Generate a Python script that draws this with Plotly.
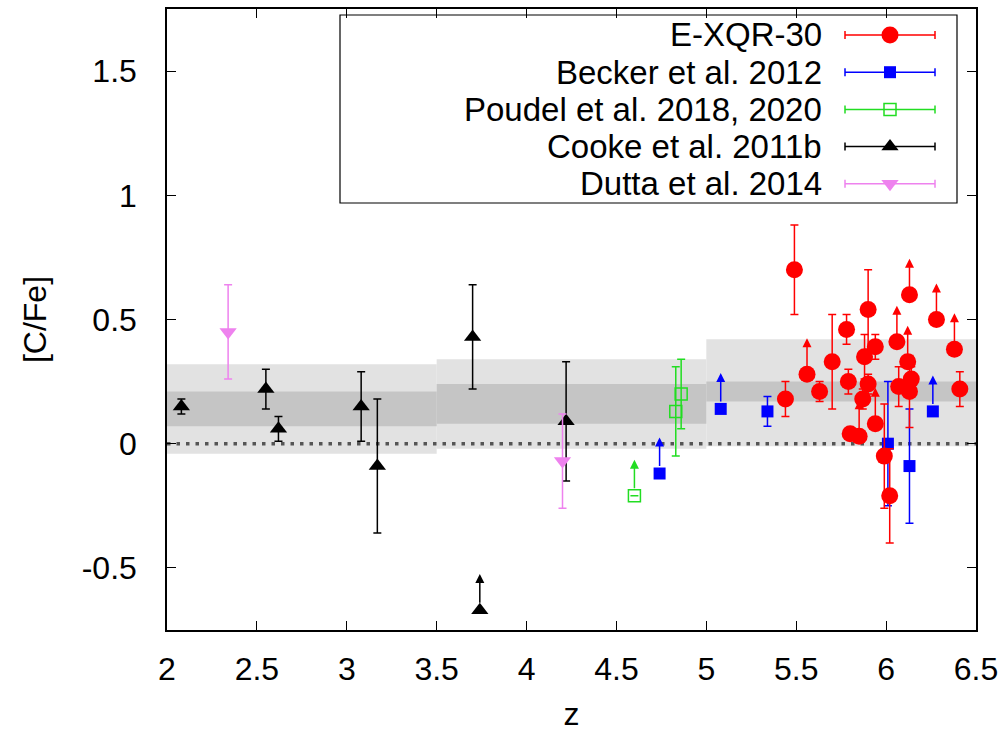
import plotly.graph_objects as go

# ---------------- data ----------------
exqr_z = [5.44, 5.49, 5.56, 5.63, 5.70, 5.78, 5.79, 5.80, 5.85, 5.87, 5.88, 5.90, 5.90,
          5.94, 5.94, 5.99, 6.02, 6.06, 6.07, 6.12, 6.13, 6.13, 6.14, 6.28, 6.38, 6.41]
exqr_cfe = [0.18, 0.70, 0.28, 0.21, 0.33, 0.46, 0.25, 0.04, 0.03, 0.18, 0.35, 0.54, 0.24,
            0.08, 0.39, -0.05, -0.21, 0.41, 0.23, 0.33, 0.60, 0.21, 0.26, 0.50, 0.38, 0.22]
exqr_err = [0.07, 0.18, None, 0.04, 0.19, 0.06, 0.05, 0.02, None, 0.04, 0.09, 0.16, 0.04,
            None, 0.05, 0.21, 0.19, None, 0.08, None, None, 0.145, 0.05, None, None, 0.07]
exqr_lower = [False, False, True, False, False, False, False, False, True, False, False, False, False,
              True, False, False, False, True, False, True, True, False, False, True, True, False]

becker_z = [4.74, 5.08, 5.34, 6.01, 6.13, 6.26]
becker_cfe = [-0.12, 0.14, 0.13, 0.00, -0.09, 0.13]
becker_err = [None, None, 0.06, 0.25, 0.23, None]
becker_lower = [True, True, False, False, False, True]

poudel_z = [4.60, 4.83, 4.86]
poudel_cfe = [-0.21, 0.13, 0.20]
poudel_err = [None, 0.18, 0.14]
poudel_lower = [True, False, False]

cooke_z = [2.08, 2.55, 2.62, 3.08, 3.17, 3.70, 3.74, 4.22]
cooke_cfe = [0.15, 0.22, 0.06, 0.15, -0.09, 0.43, -0.67, 0.09]
cooke_err = [0.03, 0.08, 0.05, 0.14, 0.27, 0.21, None, 0.24]
cooke_lower = [False, False, False, False, False, False, True, False]

dutta_z = [2.34, 4.20]
dutta_cfe = [0.45, -0.07]
dutta_err = [0.19, 0.19]
dutta_lower = [False, False]

band_edges = [2.0, 3.5, 5.0, 6.5]
band_outer_lo = [-0.04, -0.02, -0.01]
band_outer_hi = [0.32, 0.34, 0.42]
band_inner_lo = [0.07, 0.08, 0.17]
band_inner_hi = [0.21, 0.24, 0.25]

x_ticks = [2, 2.5, 3, 3.5, 4, 4.5, 5, 5.5, 6, 6.5]
x_tick_labels = ["2", "2.5", "3", "3.5", "4", "4.5", "5", "5.5", "6", "6.5"]
y_ticks = [-0.5, 0, 0.5, 1, 1.5]
y_tick_labels = ["-0.5", "0", "0.5", "1", "1.5"]

series_names = ["E-XQR-30", "Becker et al. 2012", "Poudel et al. 2018, 2020",
                "Cooke et al. 2011b", "Dutta et al. 2014"]

# ---------------- style / layout ----------------
W, H = 1007, 735
ML, MR, MT, MB = 167, 31, 9, 105
PW, PH = W - ML - MR, H - MT - MB
FONT = "Liberation Sans, Arimo, Arial, sans-serif"
LIGHT, DARK = "#e2e2e2", "#c5c5c5"
ARROW_LEN = 0.145

styles = [
    dict(color="#ff0000", symbol="circle", size=17, line=dict(width=0)),
    dict(color="#0000ff", symbol="square", size=12, line=dict(width=0)),
    dict(color="#22dd22", symbol="square-open", size=12, line=dict(width=1.5, color="#22dd22")),
    dict(color="#000000", symbol="triangle-up", size=15, line=dict(width=0)),
    dict(color="#ee82ee", symbol="triangle-down", size=15, line=dict(width=0)),
]
datasets = [
    (exqr_z, exqr_cfe, exqr_err, exqr_lower),
    (becker_z, becker_cfe, becker_err, becker_lower),
    (poudel_z, poudel_cfe, poudel_err, poudel_lower),
    (cooke_z, cooke_cfe, cooke_err, cooke_lower),
    (dutta_z, dutta_cfe, dutta_err, dutta_lower),
]

fig = go.Figure()
shapes = []
for i in range(len(band_edges) - 1):
    shapes.append(dict(type="rect", xref="x", yref="y", x0=band_edges[i], x1=band_edges[i + 1],
                       y0=band_outer_lo[i], y1=band_outer_hi[i], fillcolor=LIGHT,
                       line=dict(width=0), layer="below"))
for i in range(len(band_edges) - 1):
    shapes.append(dict(type="rect", xref="x", yref="y", x0=band_edges[i], x1=band_edges[i + 1],
                       y0=band_inner_lo[i], y1=band_inner_hi[i], fillcolor=DARK,
                       line=dict(width=0), layer="below"))
shapes.append(dict(type="line", xref="x", yref="y", x0=band_edges[0], x1=band_edges[-1], y0=0, y1=0,
                   line=dict(color="#555555", width=3.5, dash="3.5px,6px"), layer="below"))

annotations = []
# plot order: Cooke/Dutta first, E-XQR-30 last (on top)
for k in [3, 4, 2, 1, 0]:
    z, v, e, low = datasets[k]
    st = styles[k]
    fig.add_trace(go.Scatter(
        x=z, y=v, mode="markers", name=series_names[k], showlegend=False,
        marker=dict(color=st["color"], symbol=st["symbol"], size=st["size"], line=st["line"]),
        error_y=dict(type="data", array=e, symmetric=True, color=st["color"], thickness=1.5, width=4),
    ))
    for zi, vi, li in zip(z, v, low):
        if li:
            annotations.append(dict(x=zi, y=vi + ARROW_LEN, ax=zi, ay=vi, xref="x", yref="y",
                                    axref="x", ayref="y", text="", showarrow=True, arrowhead=2,
                                    arrowsize=1.2, arrowwidth=1.5, arrowcolor=st["color"],
                                    startstandoff=6))

# ---------------- custom gnuplot-style legend ----------------
def fx(px):
    return (px - ML) / PW


def fy(py):
    return 1 - (py - MT) / PH


LEG_ROW0, LEG_DY = 35, 37.2
LEG_TEXT_RIGHT, LEG_SAMPLE_C, LEG_SAMPLE_HALF = 824, 890, 45
for i, name in enumerate(series_names):
    st = styles[i]
    ypx = LEG_ROW0 + i * LEG_DY
    fig.add_trace(go.Scatter(
        x=[fx(LEG_SAMPLE_C)], y=[fy(ypx)], xaxis="x2", yaxis="y2", mode="markers", showlegend=False,
        marker=dict(color=st["color"], symbol=st["symbol"], size=st["size"], line=st["line"]),
        error_x=dict(type="constant", value=LEG_SAMPLE_HALF / PW, color=st["color"], thickness=1.5, width=4),
        hoverinfo="skip",
    ))
    annotations.append(dict(x=fx(LEG_TEXT_RIGHT), y=fy(ypx), xref="paper", yref="paper", text=name,
                            showarrow=False, xanchor="right", yanchor="middle",
                            font=dict(family=FONT, size=33, color="black")))
shapes.append(dict(type="rect", xref="paper", yref="paper", x0=fx(340), x1=fx(957), y0=fy(203), y1=fy(15),
                   line=dict(color="black", width=1.2), fillcolor="rgba(0,0,0,0)", layer="above"))

fig.update_layout(
    width=W, height=H, margin=dict(l=ML, r=MR, t=MT, b=MB, autoexpand=False),
    paper_bgcolor="white", plot_bgcolor="white",
    font=dict(family=FONT, size=32, color="black"),
    shapes=shapes, annotations=annotations,
    xaxis=dict(range=[2, 6.5], tickvals=x_ticks, ticktext=x_tick_labels, ticks="inside", ticklen=9,
               tickwidth=1.2, tickcolor="black", showline=True, linecolor="black", linewidth=1.5,
               mirror="ticks", showgrid=False, zeroline=False, ticklabelstandoff=10,
               tickfont=dict(family=FONT, size=32),
               title=dict(text="z", font=dict(family=FONT, size=32), standoff=16)),
    yaxis=dict(range=[-0.75, 1.75], tickvals=y_ticks, ticktext=y_tick_labels, ticks="inside", ticklen=9,
               tickwidth=1.2, tickcolor="black", showline=True, linecolor="black", linewidth=1.5,
               mirror="ticks", showgrid=False, zeroline=False, ticklabelstandoff=22,
               tickfont=dict(family=FONT, size=32),
               title=dict(text="[C/Fe]", font=dict(family=FONT, size=32), standoff=26)),
    xaxis2=dict(overlaying="x", range=[0, 1], visible=False, fixedrange=True),
    yaxis2=dict(overlaying="y", range=[0, 1], visible=False, fixedrange=True),
)

fig.write_html("out.html")
